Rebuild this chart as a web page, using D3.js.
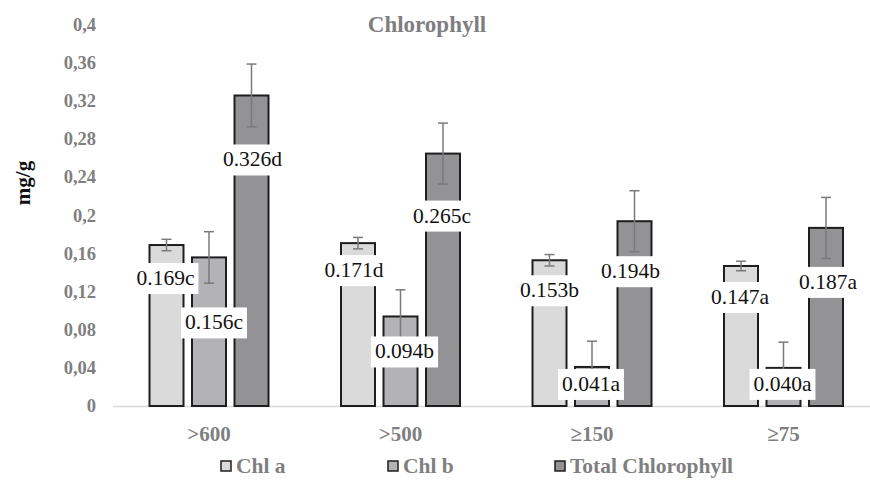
<!DOCTYPE html>
<html>
<head>
<meta charset="utf-8">
<script src="https://cdn.jsdelivr.net/npm/d3@7"></script>
<style>
  body { margin: 0; background: #fff; }
  svg { display: block; }
</style>
</head>
<body>
<div id="chart"></div>
<script>
// data
const categories = ['>600', '>500', '\u2265150', '\u226575'];
const series = ['Chl a', 'Chl b', 'Total Chlorophyll'];
const chlA = [0.169, 0.171, 0.153, 0.147];
const chlB = [0.156, 0.094, 0.041, 0.040];
const chlTotal = [0.326, 0.265, 0.194, 0.187];
const errA = [0.006, 0.006, 0.006, 0.005];
const errB = [0.027, 0.028, 0.027, 0.027];
const errTotal = [0.033, 0.032, 0.032, 0.032];
const lettersA = ['c', 'd', 'b', 'a'];
const lettersB = ['c', 'b', 'a', 'a'];
const lettersTotal = ['d', 'c', 'b', 'a'];
const yTicks = [0, 0.04, 0.08, 0.12, 0.16, 0.2, 0.24, 0.28, 0.32, 0.36, 0.4];

const values = [chlA, chlB, chlTotal];
const errors = [errA, errB, errTotal];
const letters = [lettersA, lettersB, lettersTotal];
const colors = ['#dadadb', '#b3b3b5', '#939395'];

// label placement (pixels below the bar top, and sideways nudge), per series
const labelDy = [[33, 27, 30, 31], [65, 35, 17, 16], [64, 62, 50, 54]];
const labelDx = [[-1, -4, 0, -1], [5, 4, -1, -1], [1, -1, -4, 2]];

const width = 870, height = 482;
const serif = '"Liberation Serif", "Times New Roman", serif';
const gray = '#7f7f7f';

let svg = d3.select('#chart').append('svg')
  .attr('width', width)
  .attr('height', height);

let x = d3.scaleBand().domain(categories).range([113.25, 879.25]);
let xInner = d3.scaleBand().domain(series).range([-59.5, 59.5]).paddingInner(0.2);
let y = d3.scaleLinear().domain([0, 0.4]).range([406, 25]);

// y tick labels (no gridlines)
svg.append('g').selectAll('text')
  .data(yTicks)
  .join('text')
  .attr('x', 96)
  .attr('y', d => y(d) + 6)
  .attr('text-anchor', 'end')
  .attr('font-family', serif)
  .attr('font-weight', 'bold')
  .attr('font-size', '18.5px')
  .attr('fill', gray)
  .text(d => d3.format('~g')(d).replace('.', ','));

// baseline
svg.append('line')
  .attr('x1', 113)
  .attr('x2', width)
  .attr('y1', y(0) + 0.5)
  .attr('y2', y(0) + 0.5)
  .style('stroke', '#d9d9d9')
  .style('stroke-width', 1.5);

let rows = [];
series.forEach((s, si) => {
  categories.forEach((c, ci) => {
    rows.push({s: s, si: si, c: c, ci: ci, v: values[si][ci], e: errors[si][ci]});
  });
});

// bars
svg.append('g').selectAll('rect')
  .data(rows)
  .join('rect')
  .attr('x', d => x(d.c) + x.bandwidth() / 2 + xInner(d.s))
  .attr('y', d => y(d.v))
  .attr('width', xInner.bandwidth())
  .attr('height', d => y(0) - y(d.v))
  .attr('fill', d => colors[d.si])
  .style('stroke', '#1e1e1e')
  .style('stroke-width', 2);

// error bars
let eb = svg.append('g')
  .style('stroke', '#7a7a7a')
  .style('stroke-width', 1.5);
rows.forEach(d => {
  let cx = x(d.c) + x.bandwidth() / 2 + xInner(d.s) + xInner.bandwidth() / 2;
  let lo = Math.max(0, d.v - d.e);
  eb.append('line').attr('x1', cx).attr('x2', cx).attr('y1', y(d.v + d.e)).attr('y2', y(lo));
  eb.append('line').attr('x1', cx - 5).attr('x2', cx + 5).attr('y1', y(d.v + d.e)).attr('y2', y(d.v + d.e));
  if (d.v - d.e > 0) {
    eb.append('line').attr('x1', cx - 5).attr('x2', cx + 5).attr('y1', y(lo)).attr('y2', y(lo));
  }
});

// data labels with white boxes
let lg = svg.append('g');
rows.forEach(d => {
  let cx = x(d.c) + x.bandwidth() / 2 + xInner(d.s) + xInner.bandwidth() / 2 + labelDx[d.si][d.ci];
  let cy = y(d.v) + labelDy[d.si][d.ci];
  let box = lg.append('rect').attr('fill', 'white');
  let t = lg.append('text')
    .attr('x', cx)
    .attr('y', cy + 7)
    .attr('text-anchor', 'middle')
    .attr('font-family', serif)
    .attr('font-size', '21.5px')
    .attr('fill', '#111')
    .text(d3.format('.3f')(d.v) + letters[d.si][d.ci]);
  let w = t.node().getComputedTextLength();
  box.attr('x', cx - w / 2 - 4)
    .attr('y', cy - 15)
    .attr('width', w + 8)
    .attr('height', 31);
});

// category labels
svg.append('g').selectAll('text')
  .data(categories)
  .join('text')
  .attr('x', d => x(d) + x.bandwidth() / 2)
  .attr('y', 441)
  .attr('text-anchor', 'middle')
  .attr('font-family', serif)
  .attr('font-weight', 'bold')
  .attr('font-size', '21px')
  .attr('fill', gray)
  .text(d => d);

// title
svg.append('text')
  .attr('x', 427)
  .attr('y', 32)
  .attr('text-anchor', 'middle')
  .attr('font-family', serif)
  .attr('font-weight', 'bold')
  .attr('font-size', '23px')
  .attr('fill', gray)
  .text('Chlorophyll');

// y axis title
svg.append('text')
  .attr('transform', 'translate(30,183) rotate(-90)')
  .attr('text-anchor', 'middle')
  .attr('font-family', serif)
  .attr('font-weight', 'bold')
  .attr('font-size', '21px')
  .attr('fill', '#111')
  .text('mg/g');

// legend
let legendX = [221, 388, 555];
let legend = svg.append('g');
series.forEach((s, i) => {
  legend.append('rect')
    .attr('x', legendX[i])
    .attr('y', 461)
    .attr('width', 10)
    .attr('height', 10)
    .attr('fill', colors[i])
    .style('stroke', '#1e1e1e')
    .style('stroke-width', 1.5);
  legend.append('text')
    .attr('x', legendX[i] + 15)
    .attr('y', 473)
    .attr('font-family', serif)
    .attr('font-weight', 'bold')
    .attr('font-size', '21.5px')
    .attr('fill', gray)
    .text(s);
});
</script>
</body>
</html>
